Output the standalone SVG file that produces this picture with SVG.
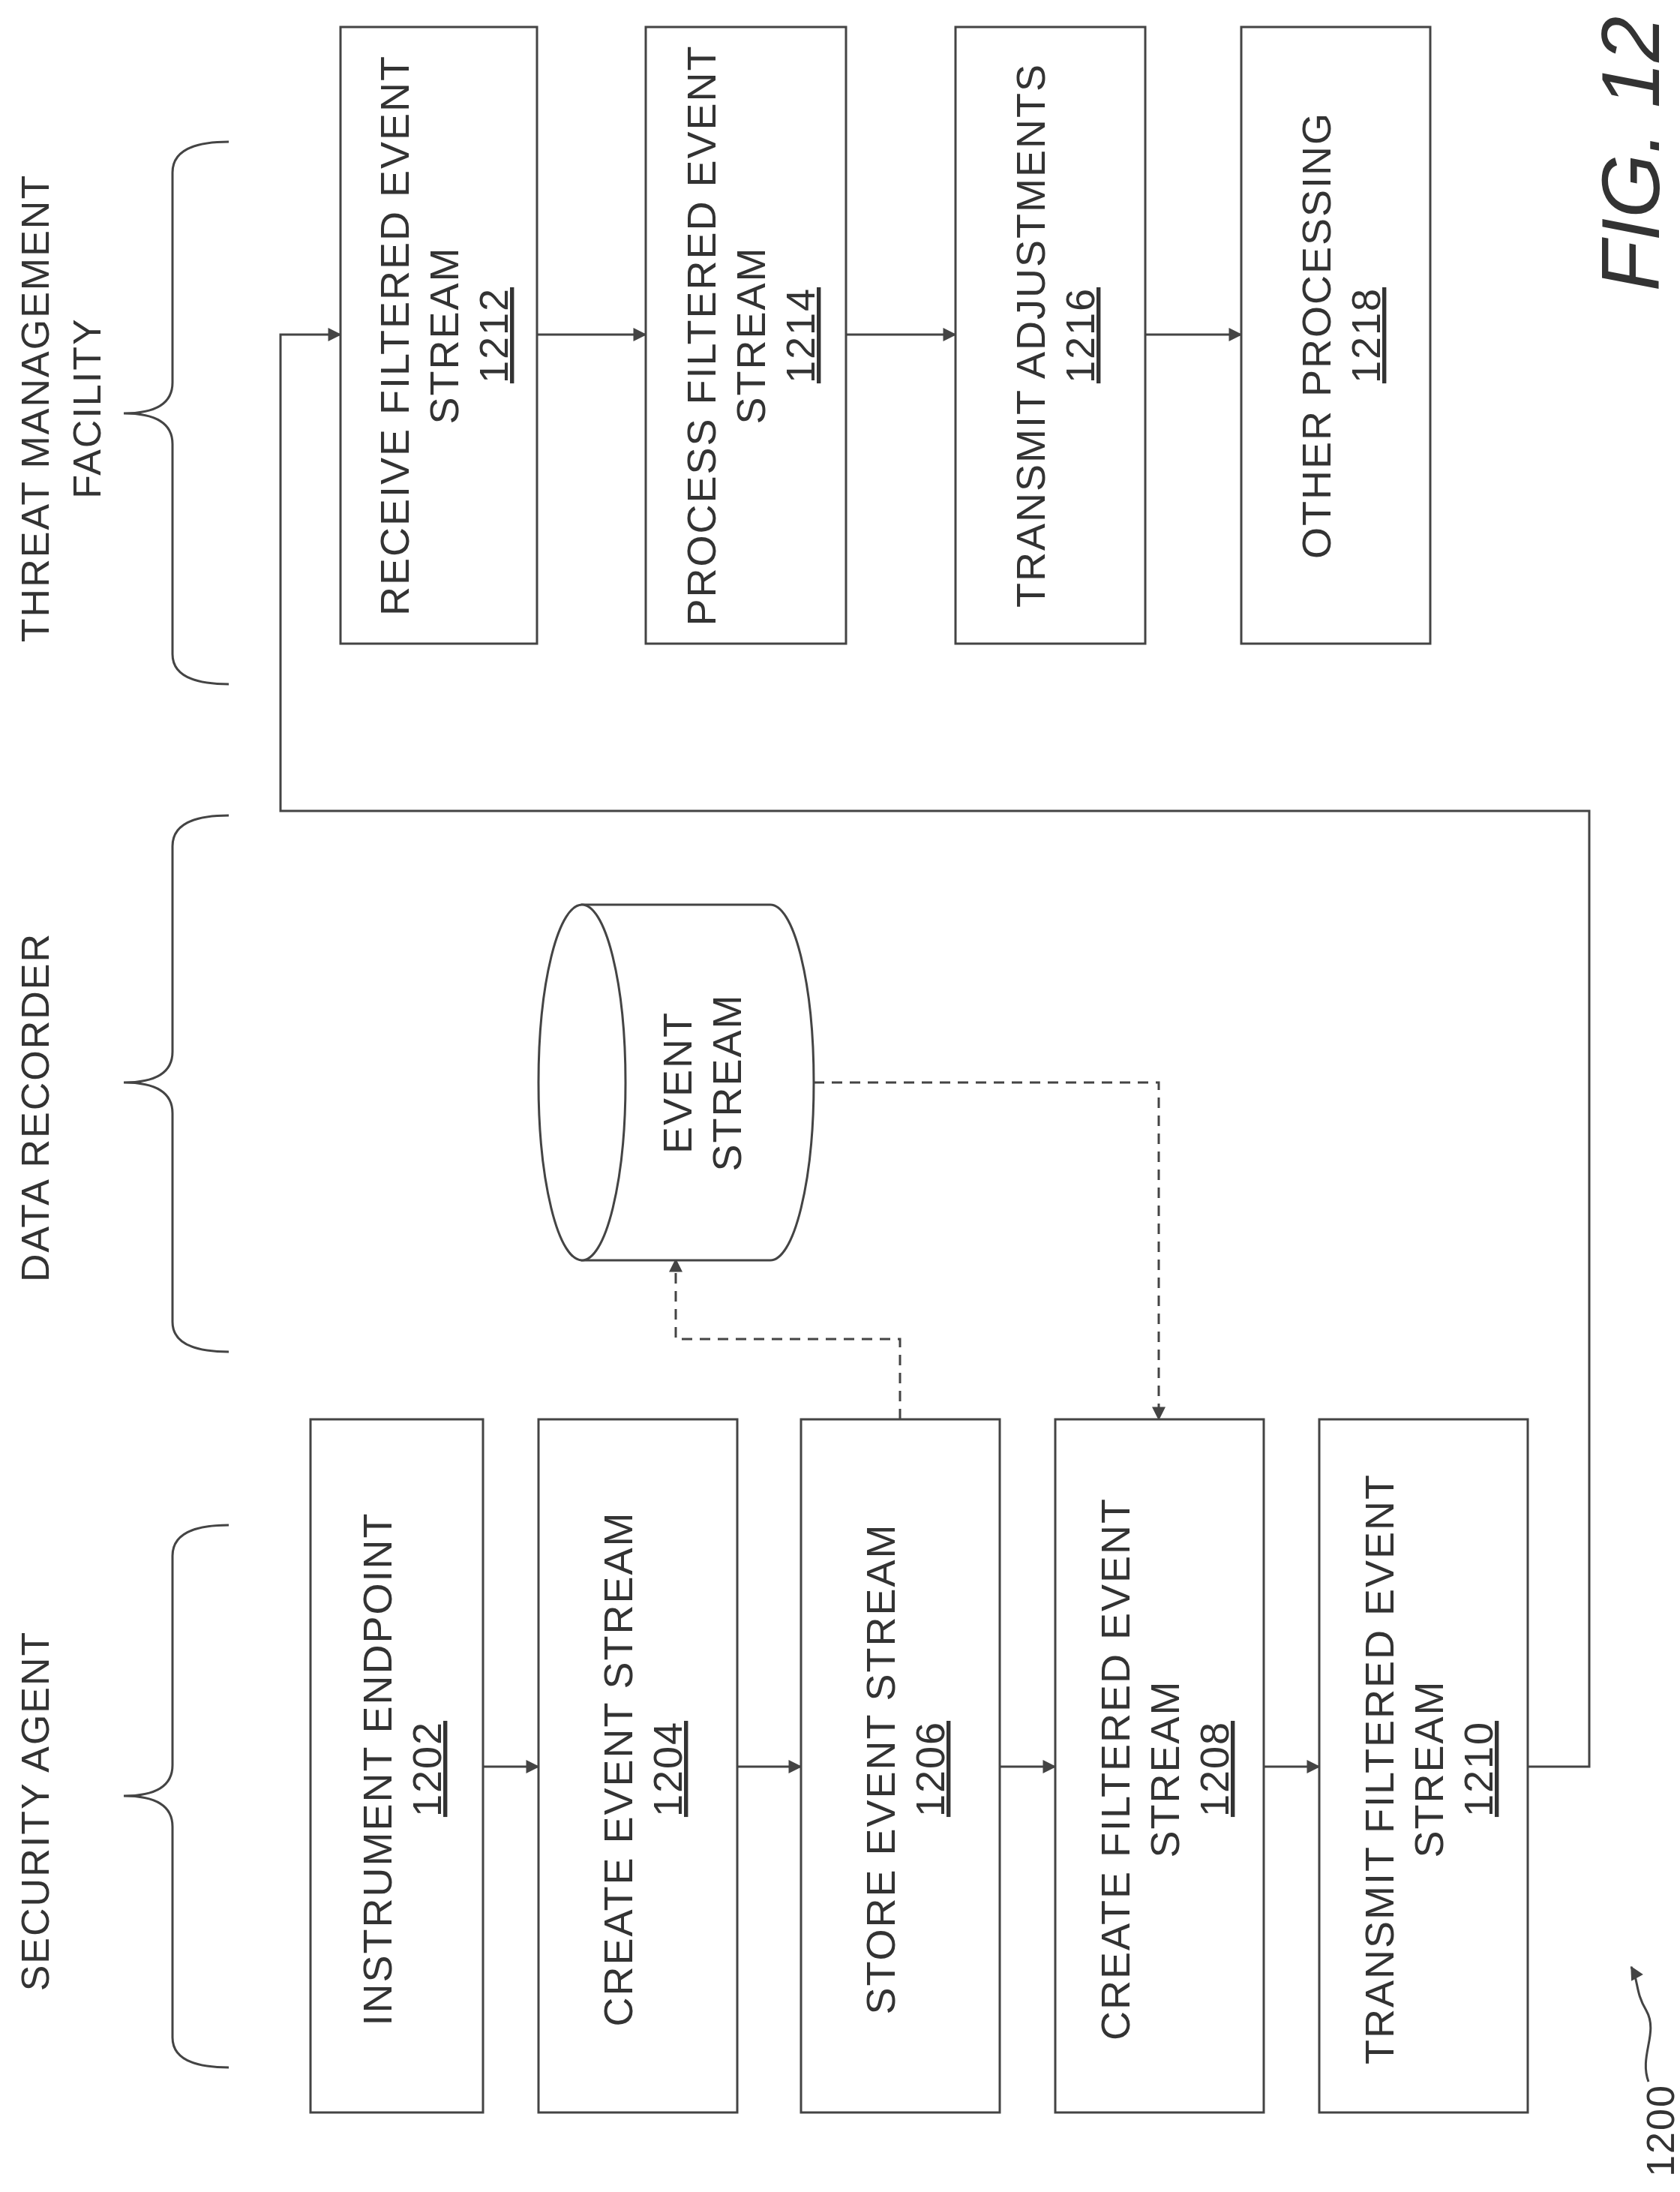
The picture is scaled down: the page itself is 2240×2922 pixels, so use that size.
<svg xmlns="http://www.w3.org/2000/svg" width="2240" height="2922" viewBox="0 0 2240 2922">
<style>
.b{fill:#fff;stroke:#444;stroke-width:3}
.t{font-family:"Liberation Sans",Arial,sans-serif;font-size:54px;fill:#333;text-anchor:middle;letter-spacing:2px}
.l{font-family:"Liberation Sans",Arial,sans-serif;font-size:52px;fill:#333;text-anchor:middle;letter-spacing:2px}
.c{fill:none;stroke:#444;stroke-width:3}
.d{fill:none;stroke:#444;stroke-width:3;stroke-dasharray:14 10}
</style>
<defs>
<marker id="a" viewBox="0 0 12 12" refX="11" refY="6" markerWidth="22" markerHeight="18" orient="auto" markerUnits="userSpaceOnUse">
<path d="M0,0 L12,6 L0,12 Z" fill="#444"/>
</marker>
</defs>
<rect width="2240" height="2922" fill="#fff"/>
<g id="labels">
<text class="l" transform="translate(65,544) rotate(-90)">THREAT MANAGEMENT</text>
<text class="l" transform="translate(134,544) rotate(-90)">FACILITY</text>
<text class="l" transform="translate(65,1476) rotate(-90)">DATA RECORDER</text>
<text class="l" transform="translate(65,2414) rotate(-90)">SECURITY AGENT</text>
<text transform="translate(2212,205) rotate(-90)" font-family="Liberation Sans,Arial,sans-serif" font-size="110" font-style="italic" fill="#333" text-anchor="middle">FIG. 12</text>
<text class="l" transform="translate(2232,2840) rotate(-90)">1200</text>
<path class="c" d="M2198,2775 C2185,2740 2212,2710 2195,2680 C2180,2655 2185,2640 2175,2622" marker-end="url(#a)"/>
</g>
<g id="braces" class="c">
<path d="M305,189 Q230,189 230,230 L230,510 Q230,551 165,551 Q230,551 230,592 L230,872 Q230,912 305,912"/>
<path d="M305,1087 Q230,1087 230,1128 L230,1402 Q230,1443 165,1443 Q230,1443 230,1484 L230,1762 Q230,1802 305,1802"/>
<path d="M305,2033 Q230,2033 230,2074 L230,2353 Q230,2394 165,2394 Q230,2394 230,2435 L230,2716 Q230,2756 305,2756"/>
</g>
<g id="connectors">
<path class="c" d="M644,2355 H718" marker-end="url(#a)"/>
<path class="c" d="M983,2355 H1068" marker-end="url(#a)"/>
<path class="c" d="M1333,2355 H1407" marker-end="url(#a)"/>
<path class="c" d="M1685,2355 H1759" marker-end="url(#a)"/>
<path class="c" d="M2037,2355 H2119 V1081 H374 V446 H454" marker-end="url(#a)"/>
<path class="c" d="M716,446 H861" marker-end="url(#a)"/>
<path class="c" d="M1128,446 H1274" marker-end="url(#a)"/>
<path class="c" d="M1527,446 H1655" marker-end="url(#a)"/>
<path class="d" d="M1085,1443 H1545 V1892" marker-end="url(#a)"/>
<path class="d" d="M1200,1892 V1785 H901 V1679" marker-end="url(#a)"/>
</g>
<g id="n1212"><rect class="b" x="454" y="36" width="262" height="822"/>
<text class="t" transform="translate(585,447) rotate(-90)"><tspan x="0" y="-40">RECEIVE FILTERED EVENT</tspan><tspan x="0" y="26">STREAM</tspan><tspan x="0" y="92" text-decoration="underline">1212</tspan></text></g>
<g id="n1214"><rect class="b" x="861" y="36" width="267" height="822"/>
<text class="t" transform="translate(994,447) rotate(-90)"><tspan x="0" y="-40">PROCESS FILTERED EVENT</tspan><tspan x="0" y="26">STREAM</tspan><tspan x="0" y="92" text-decoration="underline">1214</tspan></text></g>
<g id="n1216"><rect class="b" x="1274" y="36" width="253" height="822"/>
<text class="t" transform="translate(1400,447) rotate(-90)"><tspan x="0" y="-7">TRANSMIT ADJUSTMENTS</tspan><tspan x="0" y="59" text-decoration="underline">1216</tspan></text></g>
<g id="n1218"><rect class="b" x="1655" y="36" width="252" height="822"/>
<text class="t" transform="translate(1781,447) rotate(-90)"><tspan x="0" y="-7">OTHER PROCESSING</tspan><tspan x="0" y="59" text-decoration="underline">1218</tspan></text></g>
<g id="eventstream">
<path class="b" d="M776,1206 H1027 A58,237 0 0 1 1027,1680 H776 Z"/>
<ellipse class="b" cx="776" cy="1443" rx="58" ry="237"/>
<text class="t" transform="translate(934,1443) rotate(-90)"><tspan x="0" y="-12">EVENT</tspan><tspan x="0" y="54">STREAM</tspan></text>
</g>
<g id="n1202"><rect class="b" x="414" y="1892" width="230" height="924"/>
<text class="t" transform="translate(529,2358) rotate(-90)"><tspan x="0" y="-7">INSTRUMENT ENDPOINT</tspan><tspan x="0" y="59" text-decoration="underline">1202</tspan></text></g>
<g id="n1204"><rect class="b" x="718" y="1892" width="265" height="924"/>
<text class="t" transform="translate(850,2358) rotate(-90)"><tspan x="0" y="-7">CREATE EVENT STREAM</tspan><tspan x="0" y="59" text-decoration="underline">1204</tspan></text></g>
<g id="n1206"><rect class="b" x="1068" y="1892" width="265" height="924"/>
<text class="t" transform="translate(1200,2358) rotate(-90)"><tspan x="0" y="-7">STORE EVENT STREAM</tspan><tspan x="0" y="59" text-decoration="underline">1206</tspan></text></g>
<g id="n1208"><rect class="b" x="1407" y="1892" width="278" height="924"/>
<text class="t" transform="translate(1546,2358) rotate(-90)"><tspan x="0" y="-40">CREATE FILTERED EVENT</tspan><tspan x="0" y="26">STREAM</tspan><tspan x="0" y="92" text-decoration="underline">1208</tspan></text></g>
<g id="n1210"><rect class="b" x="1759" y="1892" width="278" height="924"/>
<text class="t" transform="translate(1898,2358) rotate(-90)"><tspan x="0" y="-40">TRANSMIT FILTERED EVENT</tspan><tspan x="0" y="26">STREAM</tspan><tspan x="0" y="92" text-decoration="underline">1210</tspan></text></g>
</svg>
